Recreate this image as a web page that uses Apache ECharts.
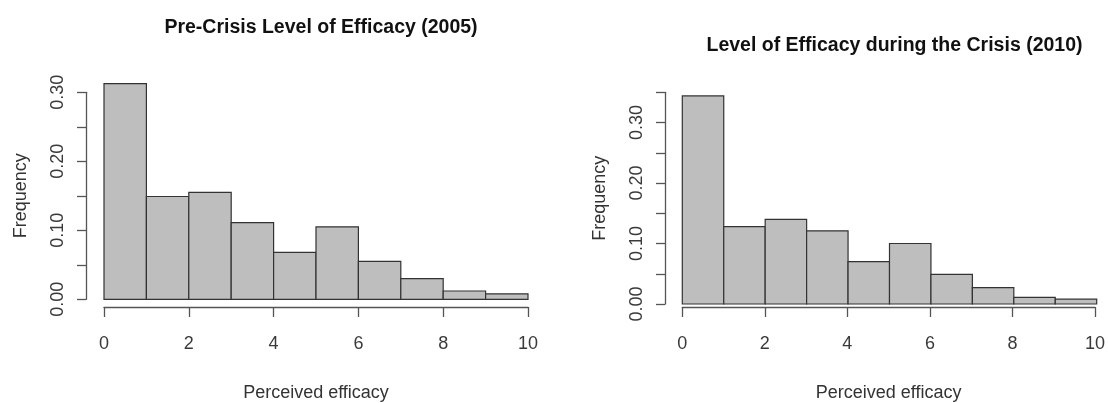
<!DOCTYPE html>
<html><head><meta charset="utf-8">
<script src="https://cdn.jsdelivr.net/npm/echarts@6/dist/echarts.min.js"></script>
<style>html,body{margin:0;padding:0;background:#fff}#c{width:1108px;height:403px}</style>
</head><body><div id="c"></div>
<script>
// ---- data ----
const binEdges = [0,1,2,3,4,5,6,7,8,9,10];
const freq2005 = [0.3125,0.149,0.155,0.111,0.068,0.105,0.055,0.030,0.012,0.008];
const freq2010 = [0.344,0.128,0.140,0.121,0.070,0.100,0.049,0.027,0.011,0.008];
const xTicks = [0,2,4,6,8,10];
const yLabels = ['0.00','0.10','0.20','0.30'];
const title2005 = 'Pre-Crisis Level of Efficacy (2005)';
const title2010 = 'Level of Efficacy during the Crisis (2010)';
const xName = 'Perceived efficacy';
const yName = 'Frequency';

// ---- layout ----
const FONT = '"Liberation Sans", Arial, sans-serif';
const panels = [
  {title: title2005, vals: freq2005, left: 104, right: 528, base: 299.3, axTop: 92.3, axMax: 0.30, barMax: 0.33, titleY: 13, xOff: 9, yOff: 18},
  {title: title2010, vals: freq2010, left: 682.3, right: 1096.7, base: 304, axTop: 92.3, axMax: 0.35, barMax: 0.36, titleY: 31, xOff: 9.3, yOff: 17.3}
];

const grid = [], xAxis = [], yAxis = [], series = [], title = [];
const lineStyle = {color: '#555', width: 1.3};
panels.forEach((p, k) => {
  const ppu = (p.base - p.axTop) / p.axMax;
  const barTop = p.base - p.barMax * ppu;
  const w = p.right - p.left;
  // bars grid, y-axis grid, x-axis grid
  grid.push({left: p.left, width: w, top: barTop, height: p.base - barTop});
  grid.push({left: p.left, width: w, top: p.axTop, height: p.base - p.axTop});
  grid.push({left: p.left, width: w, top: p.base + p.xOff - 10, height: 10});
  const gb = 3*k, gy = 3*k+1, gx = 3*k+2;
  // bars grid axes (hidden)
  xAxis.push({gridIndex: gb, type: 'value', min: 0, max: 10, show: false});
  yAxis.push({gridIndex: gb, type: 'value', min: 0, max: p.barMax, show: false});
  // y-axis grid
  xAxis.push({gridIndex: gy, type: 'value', min: 0, max: 10, show: false});
  yAxis.push({gridIndex: gy, type: 'value', min: 0, max: p.axMax, interval: 0.05, offset: p.yOff,
    axisLine: {show: true, onZero: false, lineStyle},
    axisTick: {show: true, length: 9, lineStyle},
    axisLabel: {margin: 19, rotate: 90, color: '#3a3a3a', fontFamily: FONT, fontSize: 18,
      formatter: v => { const s = v.toFixed(2); return yLabels.includes(s) ? s : ''; }},
    splitLine: {show: false},
    name: yName, nameLocation: 'middle', nameGap: 56, nameRotate: 90,
    nameTextStyle: {color: '#333', fontFamily: FONT, fontSize: 18}
  });
  // x-axis grid
  xAxis.push({gridIndex: gx, type: 'value', min: 0, max: 10, interval: 2, position: 'bottom',
    axisLine: {show: true, onZero: false, lineStyle},
    axisTick: {show: true, length: 10, lineStyle},
    axisLabel: {margin: 28, color: '#3a3a3a', fontFamily: FONT, fontSize: 18,
      formatter: v => xTicks.includes(v) ? String(v) : ''},
    splitLine: {show: false},
    name: xName, nameLocation: 'middle', nameGap: 77,
    nameTextStyle: {color: '#333', fontFamily: FONT, fontSize: 18}
  });
  yAxis.push({gridIndex: gx, type: 'value', min: 0, max: 1, show: false});
  series.push({
    type: 'custom', xAxisIndex: gb, yAxisIndex: gb,
    data: p.vals.map((v, i) => [binEdges[i], binEdges[i+1], v]),
    encode: {x: [0, 1], y: 2},
    renderItem: (params, api) => {
      const a = api.coord([api.value(0), api.value(2)]);
      const b = api.coord([api.value(1), 0]);
      return {type: 'rect', shape: {x: a[0], y: a[1], width: b[0] - a[0], height: b[1] - a[1]},
        style: {fill: '#bebebe', stroke: '#333', lineWidth: 1.2}};
    }
  });
  title.push({text: p.title, left: (p.left + p.right) / 2, textAlign: 'center', top: p.titleY,
    textStyle: {fontFamily: FONT, fontWeight: 'bold', fontSize: 19.5, color: '#111'}});
});

const chart = echarts.init(document.getElementById('c'), null, {renderer: 'canvas'});
chart.setOption({animation: false, backgroundColor: '#fff', title, grid, xAxis, yAxis, series});
</script></body></html>
